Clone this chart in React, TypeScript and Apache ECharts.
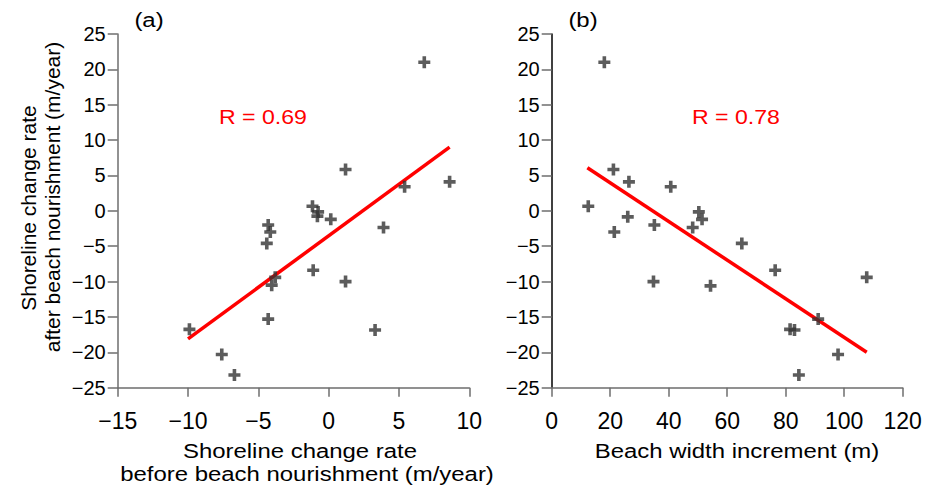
import React, { useEffect, useRef } from "react";
import * as echarts from "echarts";

// Panel (a): shoreline change rate before vs after nourishment (m/year)
const beforeRate = [6.8, 1.2, 5.4, 8.6, -1.15, -0.75, -0.8, 0.15, -4.3, -4.15, -4.4, 3.9, -1.1, -3.8, -4.05, 1.2, -4.3, -9.9, 3.3, -7.6, -6.7];
const afterRateA = [21, 5.85, 3.4, 4.1, 0.65, -0.15, -0.75, -1.2, -2.0, -3.0, -4.6, -2.35, -8.4, -9.4, -10.5, -10.0, -15.3, -16.75, -16.85, -20.3, -23.2];
const fitA = [[-10, -18.1], [8.6, 9.0]];

// Panel (b): beach width increment (m) vs after rate
const widthInc = [18, 21.1, 26.4, 40.7, 12.5, 21.4, 26, 35.1, 34.8, 48.2, 50.3, 51.4, 54.3, 65, 76.4, 81.5, 83, 91.1, 97.9, 84.5, 107.7];
const afterRateB = [21, 5.85, 4.1, 3.4, 0.65, -3.0, -0.85, -2.0, -10.0, -2.35, -0.15, -1.2, -10.6, -4.6, -8.4, -16.75, -16.85, -15.3, -20.3, -23.2, -9.4];
const fitB = [[12.2, 6.1], [107.7, -20.0]];

const rLabelA = "R = 0.69";
const rLabelB = "R = 0.78";

const FONT = "Liberation Sans, Arial, sans-serif";
const PLUS = "path://M3.5,0H6.5V3.5H10V6.5H6.5V10H3.5V6.5H0V3.5H3.5Z";
const minus = (v: number) => (v < 0 ? "\u2212" + Math.abs(v) : String(v));
const SX = 1.14;

export default function App() {
  const ref = useRef<HTMLDivElement>(null);
  useEffect(() => {
    document.body.style.margin = "0";
    const chart = echarts.init(ref.current!, null, { renderer: "svg" });
    const gray = "#6e6e6e";
    const xAxisBase = (min: number, max: number, interval: number, gi: number) => ({
      type: "value" as const,
      gridIndex: gi,
      min,
      max,
      interval,
      axisLine: { show: true, onZero: false, lineStyle: { color: gray, width: 1.5 } },
      axisTick: { show: true, length: 9, lineStyle: { color: gray, width: 1.5 } },
      axisLabel: { color: "#000", fontSize: 23, fontFamily: FONT, formatter: minus, margin: 22 },
      splitLine: { show: false },
    });
    const yAxisBase = (gi: number, lineColor: string) => ({
      type: "value" as const,
      gridIndex: gi,
      min: -25,
      max: 25,
      interval: 5,
      axisLine: { show: true, onZero: false, lineStyle: { color: lineColor, width: 1.5 } },
      axisTick: { show: true, length: 10, lineStyle: { color: gray, width: 1.5 } },
      axisLabel: { color: "#000", fontSize: 20, fontFamily: FONT, formatter: minus, margin: 12 },
      splitLine: { show: false },
    });
    const scatter = (xs: number[], ys: number[], idx: number) => ({
      type: "scatter" as const,
      xAxisIndex: idx,
      yAxisIndex: idx,
      symbol: PLUS,
      symbolSize: 12,
      itemStyle: { color: "#333333" },
      data: xs.map((x, i) => [x, ys[i]]),
      z: 3,
    });
    const fit = (d: number[][], idx: number) => ({
      type: "line" as const,
      xAxisIndex: idx,
      yAxisIndex: idx,
      data: d,
      symbol: "none",
      lineStyle: { color: "#ff0000", width: 3.5 },
      z: 2,
    });
    const txt = (x: number, y: number, text: string, size: number, color = "#000", rotation = 0, scaleX = SX) => ({
      type: "text" as const,
      x,
      y,
      rotation,
      scaleX,
      style: { text, fontSize: size, fontFamily: FONT, fill: color, textAlign: "center", textVerticalAlign: "middle" },
    });
    chart.setOption({
      animation: false,
      grid: [
        { left: 117.7, top: 34, width: 351.6, height: 353.7 },
        { left: 551.7, top: 34, width: 351, height: 353.7 },
      ],
      xAxis: [xAxisBase(-15, 10, 5, 0), xAxisBase(0, 120, 20, 1)],
      yAxis: [yAxisBase(0, gray), yAxisBase(1, "#000")],
      series: [scatter(beforeRate, afterRateA, 0), fit(fitA, 0), scatter(widthInc, afterRateB, 1), fit(fitB, 1)],
      graphic: [
        txt(149, 20, "(a)", 21),
        txt(583, 20, "(b)", 21),
        txt(263, 117, rLabelA, 21, "#ff0000", 0, 1.1),
        txt(736, 117, rLabelB, 21, "#ff0000", 0, 1.1),
        txt(28, 208, "Shoreline change rate", 21, "#000", Math.PI / 2, 1),
        txt(52, 197, "after beach nourishment (m/year)", 21, "#000", Math.PI / 2, 1),
        txt(300, 451, "Shoreline change rate", 21),
        txt(307, 474, "before beach nourishment (m/year)", 21),
        txt(737, 451, "Beach width increment (m)", 21),
      ],
    });
    return () => chart.dispose();
  }, []);
  return <div ref={ref} style={{ width: 927, height: 488 }} />;
}
